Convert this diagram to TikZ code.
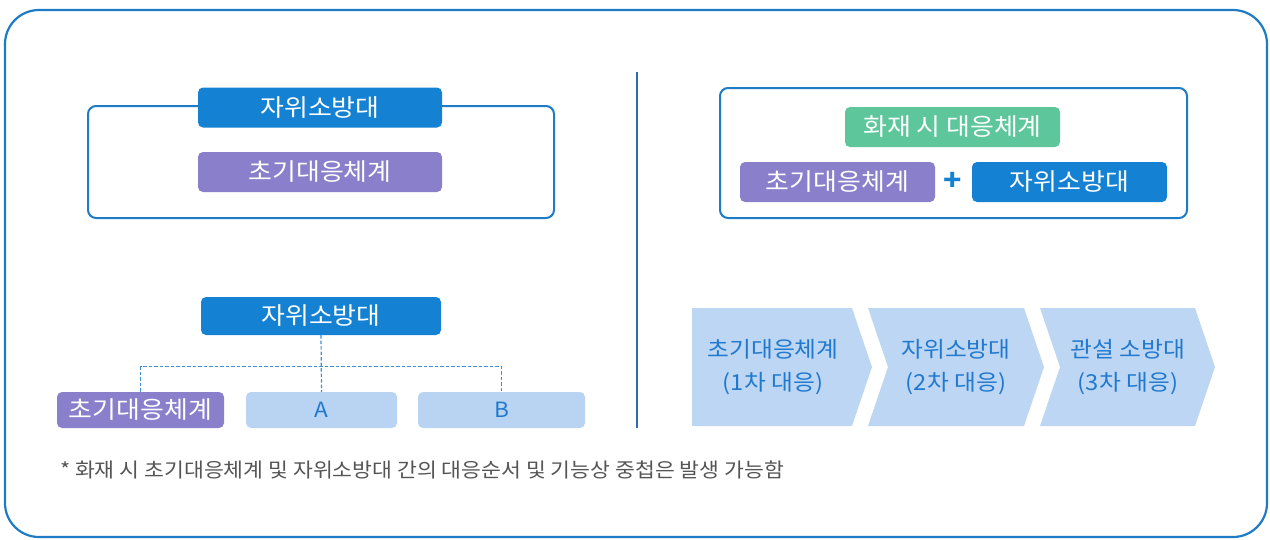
\documentclass[tikz,border=0pt]{standalone}
\usepackage{fontspec}
\setmainfont[FakeStretch=1.08]{Noto Sans CJK KR}
\usetikzlibrary{calc}
\definecolor{frameblue}{HTML}{1E7BC6}
\definecolor{divblue}{HTML}{2C6DAA}
\definecolor{darkblue}{HTML}{1581D2}
\definecolor{purp}{HTML}{8A7FCB}
\definecolor{mygreen}{HTML}{5DC79B}
\definecolor{lightblue}{HTML}{B9D4F2}
\definecolor{chev}{HTML}{BDD6F4}
\definecolor{chevtext}{HTML}{2079CF}
\definecolor{dashblue}{HTML}{3D8FD6}
\definecolor{notegray}{HTML}{555555}
\tikzset{
  lbl/.style={rounded corners=5pt, minimum height=40pt, inner sep=0pt, text=white,
    font=\fontsize{24}{24}\selectfont},
  bluebox/.style={lbl, fill=darkblue},
  purpbox/.style={lbl, fill=purp},
  greenbox/.style={lbl, fill=mygreen},
  lightbox/.style={lbl, fill=lightblue, text=chevtext, minimum height=36pt,
    font=\fontsize{21}{21}\selectfont},
  frameline/.style={draw=frameblue, line width=2pt, rounded corners=8pt},
  dashline/.style={draw=dashblue, line width=1.2pt, dash pattern=on 3.5pt off 2pt},
  chevshape/.style={fill=chev},
  chevtxt/.style={text=chevtext, align=center, font=\fontsize{22}{33}\selectfont}
}
\begin{document}
\begin{tikzpicture}[x=1pt,y=-1pt]
\useasboundingbox (0,0) rectangle (1270,539);
% outer frame
\draw[draw=frameblue, line width=2.2pt, rounded corners=34pt] (5,10) rectangle (1267,537);
% divider
\draw[draw=divblue, line width=1.5pt] (637,72) -- (637,428);

% left top
\draw[frameline] (88,106) rectangle (554,218);
\node[bluebox, minimum width=244pt] (ltop) at (320,107.5) {자위소방대};
\node[purpbox, minimum width=244pt] (lpur) at (320,172) {초기대응체계};

% left bottom hierarchy
\node[bluebox, minimum width=240pt, minimum height=38pt] (lboss) at (321,316) {자위소방대};
\node[purpbox, minimum width=167pt, minimum height=36pt] (lp) at (140.5,410) {초기대응체계};
\node[lightbox, minimum width=151pt] (la) at (321.5,410) {A};
\node[lightbox, minimum width=167pt] (lb) at (501.5,410) {B};
\draw[dashline] (lboss.south) -- (la.north);
\draw[dashline] (lp.north) -- ++(0,-25) -| (lb.north);

% right top
\draw[frameline] (720,88) rectangle (1187,218);
\node[greenbox, minimum width=215pt] (rg) at (952.5,127) {화재 시 대응체계};
\node[purpbox, minimum width=195pt] (rp) at (837.5,182) {초기대응체계};
\node[bluebox, minimum width=195pt] (rb) at (1069.5,182) {자위소방대};
\node[text=darkblue, font=\fontsize{28}{28}\selectfont\bfseries, inner sep=0pt] (plus) at (953,181) {+};

% chevrons
\fill[chevshape] (692,308) -- (852,308) -- (872,367) -- (852,426) -- (692,426) -- cycle;
\fill[chevshape] (868,308) -- (1024,308) -- (1044,367) -- (1024,426) -- (868,426) -- (888,367) -- cycle;
\fill[chevshape] (1040,308) -- (1195,308) -- (1215,367) -- (1195,426) -- (1040,426) -- (1060,367) -- cycle;
\node[chevtxt] (c1) at (773,367) {초기대응체계\\(1차 대응)};
\node[chevtxt] (c2) at (956,367) {자위소방대\\(2차 대응)};
\node[chevtxt] (c3) at (1128,367) {관설 소방대\\(3차 대응)};

% footnote
\node[anchor=west, text=notegray, inner sep=0pt, font=\fontsize{20}{20}\selectfont] (note) at (60,470)
  {* 화재 시 초기대응체계 및 자위소방대 간의 대응순서 및 기능상 중첩은 발생 가능함};
\end{tikzpicture}
\end{document}
